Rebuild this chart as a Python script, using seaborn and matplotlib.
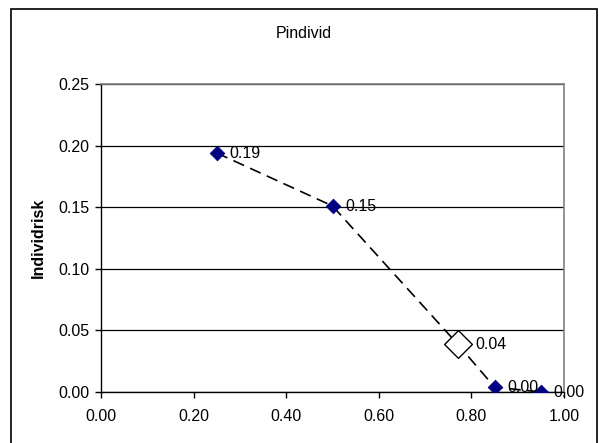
import numpy as np
import pandas as pd
import matplotlib
matplotlib.use("Agg")
import matplotlib.pyplot as plt
import seaborn as sns
from matplotlib.patches import Rectangle

# data
x_vals = [0.25, 0.50, 0.77, 0.85, 0.95]
risk = [0.194, 0.151, 0.039, 0.004, 0.0]
labels = ["0.19", "0.15", "0.04", "0.00", "0.00"]
is_open = [False, False, True, False, False]

df = pd.DataFrame({"x": x_vals, "risk": risk, "label": labels, "open": is_open})

sns.set_style("white")
plt.rcParams["font.family"] = ["Liberation Sans", "DejaVu Sans"]
plt.rcParams["text.color"] = "black"
plt.rcParams["axes.labelcolor"] = "black"
plt.rcParams["xtick.color"] = "black"
plt.rcParams["ytick.color"] = "black"

fig = plt.figure(figsize=(5.99, 4.43), dpi=100)
ax = fig.add_axes([101 / 599, 51 / 443, 463 / 599, 308 / 443])

# outer chart border
fig.patches.append(Rectangle((11 / 599, -0.01), 586 / 599, 1 - 9 / 443 + 0.01,
                             transform=fig.transFigure, fill=False,
                             edgecolor="black", linewidth=1.2))

sns.lineplot(data=df, x="x", y="risk", ax=ax, color="black", linewidth=1.2,
             linestyle=(0, (7, 4)), zorder=3)
sns.scatterplot(data=df[~df["open"]], x="x", y="risk", ax=ax, marker="D",
                color="#000080", s=55, edgecolor="#000080", zorder=4)
sns.scatterplot(data=df[df["open"]], x="x", y="risk", ax=ax, marker="D",
                color="white", s=200, edgecolor="black", linewidth=1, zorder=4)

for _, r in df.iterrows():
    off = 13 if r["open"] else 9.3
    ax.annotate(r["label"], (r["x"], r["risk"]), xytext=(off, -0.5),
                textcoords="offset points", va="center", ha="left",
                fontsize=11.5, color="black", zorder=5)

ax.set_xlim(0, 1)
ax.set_ylim(0, 0.25)
ax.set_xticks(np.arange(0, 1.01, 0.2))
ax.set_yticks(np.arange(0, 0.251, 0.05))
ax.xaxis.set_major_formatter(matplotlib.ticker.FormatStrFormatter("%.2f"))
ax.yaxis.set_major_formatter(matplotlib.ticker.FormatStrFormatter("%.2f"))
ax.tick_params(axis="both", direction="out", length=4, width=1, color="black",
               labelcolor="black", labelsize=11.5, bottom=True, left=True, pad=4.5)
ax.tick_params(axis="x", pad=8)
ax.grid(axis="y", color="black", linewidth=0.9)
ax.set_axisbelow(True)

for s in ["top", "right"]:
    ax.spines[s].set_color("#808080")
    ax.spines[s].set_linewidth(1.2)
for s in ["left", "bottom"]:
    ax.spines[s].set_color("black")
    ax.spines[s].set_linewidth(1)

ax.set_xlabel("")
ax.set_ylabel("Individrisk", fontsize=11.5, fontweight="bold", color="black")
ax.yaxis.set_label_coords(-0.119, 0.5)
fig.text(304 / 599, 1 - 33 / 443, "Pindivid", ha="center", va="center",
         fontsize=11.5, color="black")

fig.savefig("out.png", dpi=100)
